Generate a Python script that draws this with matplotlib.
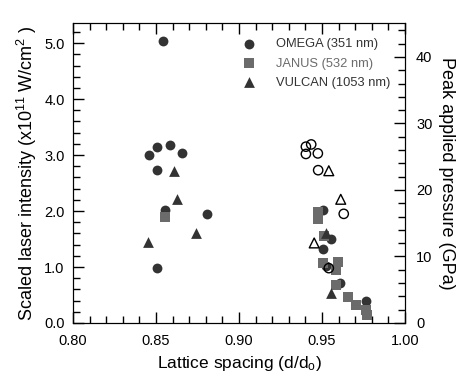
import matplotlib
matplotlib.use('Agg')
import matplotlib.pyplot as plt
from matplotlib.ticker import MultipleLocator

plt.rcParams['font.family'] = ['Liberation Sans', 'DejaVu Sans']
plt.rcParams['mathtext.fontset'] = 'custom'
plt.rcParams['mathtext.rm'] = 'Liberation Sans'
plt.rcParams['mathtext.it'] = 'Liberation Sans'

# OMEGA (351 nm)
omega_x = [0.8542, 0.8459, 0.8506, 0.8586, 0.8658, 0.8506, 0.8554, 0.8807, 0.8506,
           0.9507, 0.9553, 0.9507, 0.9523, 0.9607, 0.9768]
omega_y = [5.04, 3.01, 3.14, 3.18, 3.03, 2.73, 2.02, 1.95, 0.99,
           2.02, 1.50, 1.33, 1.02, 0.72, 0.40]
# JANUS (532 nm)
janus_x = [0.8554, 0.9475, 0.9475, 0.9513, 0.9507, 0.9597, 0.9587, 0.9587,
           0.9654, 0.9704, 0.9768, 0.9774]
janus_y = [1.89, 1.98, 1.86, 1.56, 1.08, 1.09, 0.95, 0.68, 0.47, 0.32, 0.24, 0.14]
# VULCAN (1053 nm)
vulcan_x = [0.8606, 0.8628, 0.8453, 0.8739, 0.9527, 0.9557]
vulcan_y = [2.72, 2.21, 1.44, 1.61, 1.60, 0.54]
# open symbols
open_circ_x = [0.9403, 0.9435, 0.9403, 0.9475, 0.9477, 0.9631, 0.9541]
open_circ_y = [3.15, 3.19, 3.02, 3.03, 2.73, 1.95, 0.98]
open_tri_x = [0.9541, 0.9613, 0.9453]
open_tri_y = [2.72, 2.21, 1.43]

dark = '#333333'
gray = '#6b6b6b'

fig = plt.figure(figsize=(4.6, 3.83), dpi=100)
ax = fig.add_axes([0.1587, 0.1567, 0.7217, 0.7833])

ax.scatter(omega_x, omega_y, s=50, marker='o', color=dark, lw=0, label='OMEGA (351 nm)', zorder=3)
ax.scatter(janus_x, janus_y, s=55, marker='s', color=gray, lw=0, label='JANUS (532 nm)', zorder=3)
ax.scatter(vulcan_x, vulcan_y, s=60, marker='^', color=dark, lw=0, label='VULCAN (1053 nm)', zorder=3)
ax.scatter(open_circ_x, open_circ_y, s=45, marker='o', facecolor='none', edgecolor='black', lw=1, zorder=4)
ax.scatter(open_tri_x, open_tri_y, s=50, marker='^', facecolor='none', edgecolor='black', lw=1, zorder=4)

ax.set_xlim(0.80, 1.00)
ax.set_ylim(0, 5.36)
ax.xaxis.set_major_locator(MultipleLocator(0.05))
ax.xaxis.set_minor_locator(MultipleLocator(0.01))
ax.yaxis.set_major_locator(MultipleLocator(1.0))
ax.yaxis.set_minor_locator(MultipleLocator(0.2))
ax.xaxis.set_major_formatter(plt.FormatStrFormatter('%.2f'))
ax.yaxis.set_major_formatter(plt.FormatStrFormatter('%.1f'))
ax.tick_params(which='both', direction='in', top=True, right=False, labelsize=10.5)
ax.tick_params(which='major', length=8, width=1)
ax.tick_params(which='minor', length=5, width=1)
ax.tick_params(axis='x', which='major', pad=8)
ax.tick_params(axis='y', which='major', pad=6)
ax.set_xlabel('Lattice spacing (d/d$_{o}$)', fontsize=12.5, labelpad=4)
ax.set_ylabel('Scaled laser intensity (x10$^{11}$ W/cm$^{2}$ )', fontsize=13, labelpad=4)

ax2 = ax.twinx()
ax2.set_ylim(0, 45.1)
ax2.yaxis.set_major_locator(MultipleLocator(10))
ax2.yaxis.set_minor_locator(MultipleLocator(2))
ax2.tick_params(which='both', direction='in', labelsize=10.5)
ax2.tick_params(which='major', length=8, width=1, pad=8)
ax2.tick_params(which='minor', length=5, width=1)
ax2.set_ylabel('Peak applied pressure (GPa)', fontsize=13, rotation=270, labelpad=16)

leg = ax.legend(loc='upper left', bbox_to_anchor=(0.495, 0.966), frameon=False,
                fontsize=9.3, handlelength=1.0, handletextpad=1.6, labelspacing=0.55,
                borderaxespad=0)
for txt, c in zip(leg.get_texts(), [dark, gray, dark]):
    txt.set_color(c)

fig.savefig('out.png', dpi=100)
